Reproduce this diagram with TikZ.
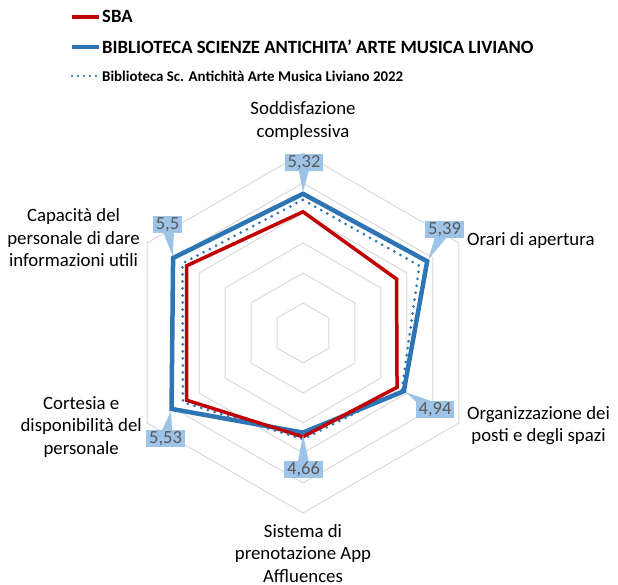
\documentclass[tikz,border=0pt]{standalone}
\usepackage{fontspec}
\setmainfont{Carlito}
\usetikzlibrary{calc}
\definecolor{sbared}{HTML}{C00000}
\definecolor{libblue}{HTML}{2E75B6}
\definecolor{gridgray}{HTML}{D9D9D9}
\definecolor{boxblue}{HTML}{9DC3E6}
\definecolor{valgray}{HTML}{595959}
\def\makering#1{
  \draw[gridline] (90:{#1}) -- (30:{#1}) -- (-30:{#1}) -- (-90:{#1}) -- (210:{#1}) -- (150:{#1}) -- cycle;
}
\def\makeseries#1#2#3#4#5#6#7#8{
  \coordinate (#2a) at (90:{(#3-3)*60});
  \coordinate (#2b) at (30:{(#4-3)*60});
  \coordinate (#2c) at (-30:{(#5-3)*60});
  \coordinate (#2d) at (-90:{(#6-3)*60});
  \coordinate (#2e) at (210:{(#7-3)*60});
  \coordinate (#2f) at (150:{(#8-3)*60});
  \draw[#1] (#2a) -- (#2b) -- (#2c) -- (#2d) -- (#2e) -- (#2f) -- cycle;
}
\def\makecallout#1#2#3#4{
  \coordinate (#1c) at (#2);
  \fill[boxblue] ($(#1c)!7pt!90:(#3)$) -- ($(#3)!2pt!(#1c)$) -- ($(#1c)!7pt!-90:(#3)$) -- cycle;
  \node[valuebox] (#1) at (#1c) {#4};
}

\begin{document}
\begin{tikzpicture}[x=1pt,y=1pt,
  gridline/.style={draw=gridgray,line width=1pt},
  sbaline/.style={draw=sbared,line width=3.5pt},
  livline/.style={draw=libblue,line width=4.5pt},
  oldline/.style={draw=libblue,line width=3pt,line cap=round,dash pattern=on 0pt off 7pt},
  valuebox/.style={fill=boxblue,text=valgray,font=\fontsize{18.5}{18.5}\selectfont,inner xsep=3pt,inner ysep=1pt,minimum height=17pt},
  axislabel/.style={align=center,font=\fontsize{18.8}{22.5}\selectfont,inner sep=0pt},
  legendtext/.style={font=\bfseries\fontsize{18.7}{21}\selectfont,anchor=west,inner sep=3pt}]
  \useasboundingbox (-303,-252) rectangle (315,333);
  % grid
  \foreach \k in {1, ..., 6} {
    \makering{\k*30}
  }
  % series
  \makeseries{livline}{liv}{5.32}{5.39}{4.94}{4.66}{5.53}{5.5}
  \makeseries{sbaline}{sba}{5.02}{4.80}{4.81}{4.73}{5.24}{5.24}
  \makeseries{oldline}{old}{5.22}{5.24}{4.90}{4.77}{5.31}{5.32}
  % value labels
  \makecallout{lsod}{1,170.5}{liva}{5,32}
  \makecallout{lora}{141.5,103.5}{livb}{5,39}
  \makecallout{lorg}{132,-76.5}{livc}{4,94}
  \makecallout{lsis}{0.5,-136.5}{livd}{4,66}
  \makecallout{lcor}{-137.5,-105.5}{live}{5,53}
  \makecallout{lcap}{-135.5,108}{livf}{5,5}
  % axis labels
  \node[axislabel] (sodd) at (0,212) {Soddisfazione\\complessiva};
  \node[axislabel,anchor=west] (orari) at (164,93) {Orari di apertura};
  \node[axislabel,anchor=west] (organ) at (164,-92.5) {Organizzazione dei\\posti e degli spazi};
  \node[axislabel] (sist) at (0,-220.5) {Sistema di\\prenotazione App\\Affluences};
  \node[axislabel,anchor=east] (cort) at (-161,-94) {Cortesia e\\disponibilità del\\personale};
  \node[axislabel,anchor=east] (capac) at (-163,95) {Capacità del\\personale di dare\\informazioni utili};
  % legend
  \coordinate (sbastart) at (-231,316.3);
  \node[legendtext] (sbaname) at (-204,316.3) {SBA};
  \draw[sbared,line width=4pt] (sbastart) -- (sbaname.west);
  \coordinate (livstart) at (-231,286.3);
  \node[legendtext] (livname) at (-204,286.3) {BIBLIOTECA SCIENZE ANTICHITA{\char"27} ARTE MUSICA LIVIANO};
  \draw[libblue,line width=4pt] (livstart) -- (livname.west);
  \coordinate (oldstart) at (-231,257);
  \node[legendtext,font=\bfseries\fontsize{14.9}{17}\selectfont] (oldname) at (-204,257) {Biblioteca Sc. Antichità Arte Musica Liviano 2022};
  \draw[oldline,line width=2.5pt,dash pattern=on 0pt off 6pt] (oldstart) -- (oldname.west);
\end{tikzpicture}
\end{document}
